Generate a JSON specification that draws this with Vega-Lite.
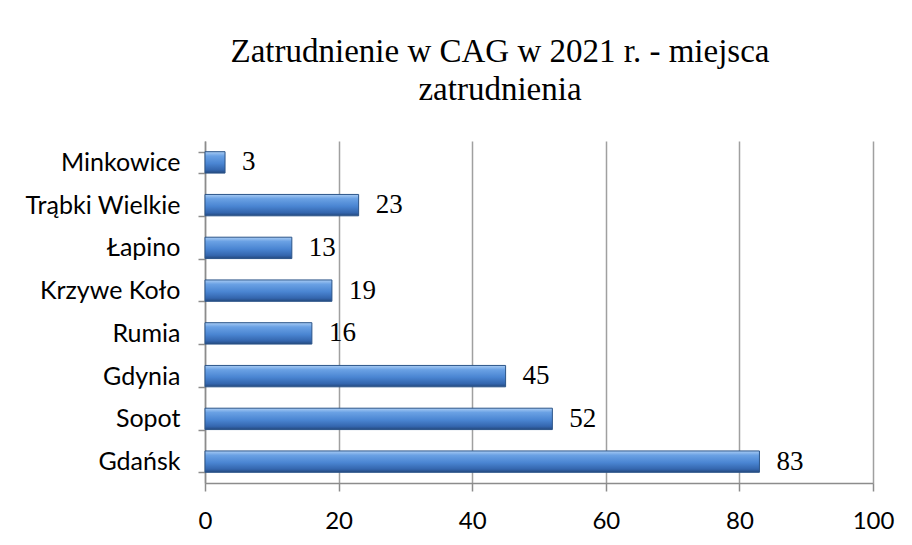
{
  "$schema": "https://vega.github.io/schema/vega-lite/v6.json",
  "width": 668,
  "height": 342,
  "autosize": {"type": "none"},
  "padding": {"left": 205, "top": 141, "right": 39, "bottom": 62},
  "background": "white",
  "title": {
    "text": ["Zatrudnienie w CAG w 2021 r. - miejsca", "zatrudnienia"],
    "font": "Liberation Serif",
    "fontSize": 33,
    "fontWeight": "normal",
    "color": "#000000",
    "lineHeight": 38,
    "baseline": "alphabetic",
    "offset": -4,
    "anchor": "middle",
    "dx": -39
  },
  "data": {
    "values": [
      {"miejsce": "Minkowice", "liczba": 3},
      {"miejsce": "Trąbki Wielkie", "liczba": 23},
      {"miejsce": "Łapino", "liczba": 13},
      {"miejsce": "Krzywe Koło", "liczba": 19},
      {"miejsce": "Rumia", "liczba": 16},
      {"miejsce": "Gdynia", "liczba": 45},
      {"miejsce": "Sopot", "liczba": 52},
      {"miejsce": "Gdańsk", "liczba": 83}
    ]
  },
  "encoding": {
    "y": {
      "field": "miejsce",
      "type": "nominal",
      "sort": null,
      "scale": {"paddingInner": 0.5, "paddingOuter": 0.25},
      "axis": {
        "title": null,
        "tickBand": "extent",
        "tickSize": 7,
        "tickColor": "#8c8c8c",
        "tickWidth": 1.5,
        "domainColor": "#8c8c8c",
        "domainWidth": 1.5,
        "labelFont": "Lato",
        "labelFontSize": 25,
        "labelColor": "#000000",
        "labelPadding": 18,
        "grid": false
      }
    },
    "x": {
      "field": "liczba",
      "type": "quantitative",
      "scale": {"domain": [0, 100], "nice": false},
      "axis": {
        "title": null,
        "values": [0, 20, 40, 60, 80, 100],
        "grid": true,
        "gridColor": "#a0a0a0",
        "gridWidth": 1.5,
        "tickSize": 8,
        "tickColor": "#8c8c8c",
        "tickWidth": 1.5,
        "domainColor": "#8c8c8c",
        "domainWidth": 1.5,
        "labelFont": "Lato",
        "labelFontSize": 24,
        "labelColor": "#000000",
        "labelPadding": 18,
        "labelFlush": false
      }
    }
  },
  "layer": [
    {
      "mark": {
        "type": "bar",
        "stroke": "#2b5488",
        "strokeWidth": 1,
        "color": {
          "gradient": "linear",
          "x1": 0, "y1": 0, "x2": 0, "y2": 1,
          "stops": [
            {"offset": 0, "color": "#a9ccf4"},
            {"offset": 0.2, "color": "#6aa1e4"},
            {"offset": 0.55, "color": "#4a85d2"},
            {"offset": 0.85, "color": "#3466ae"},
            {"offset": 1, "color": "#24497e"}
          ]
        }
      }
    },
    {
      "mark": {
        "type": "text",
        "align": "left",
        "baseline": "middle",
        "dx": 17,
        "font": "Liberation Serif",
        "fontSize": 27,
        "color": "#000000"
      },
      "encoding": {"text": {"field": "liczba", "type": "quantitative"}}
    }
  ],
  "config": {"view": {"stroke": null}}
}
